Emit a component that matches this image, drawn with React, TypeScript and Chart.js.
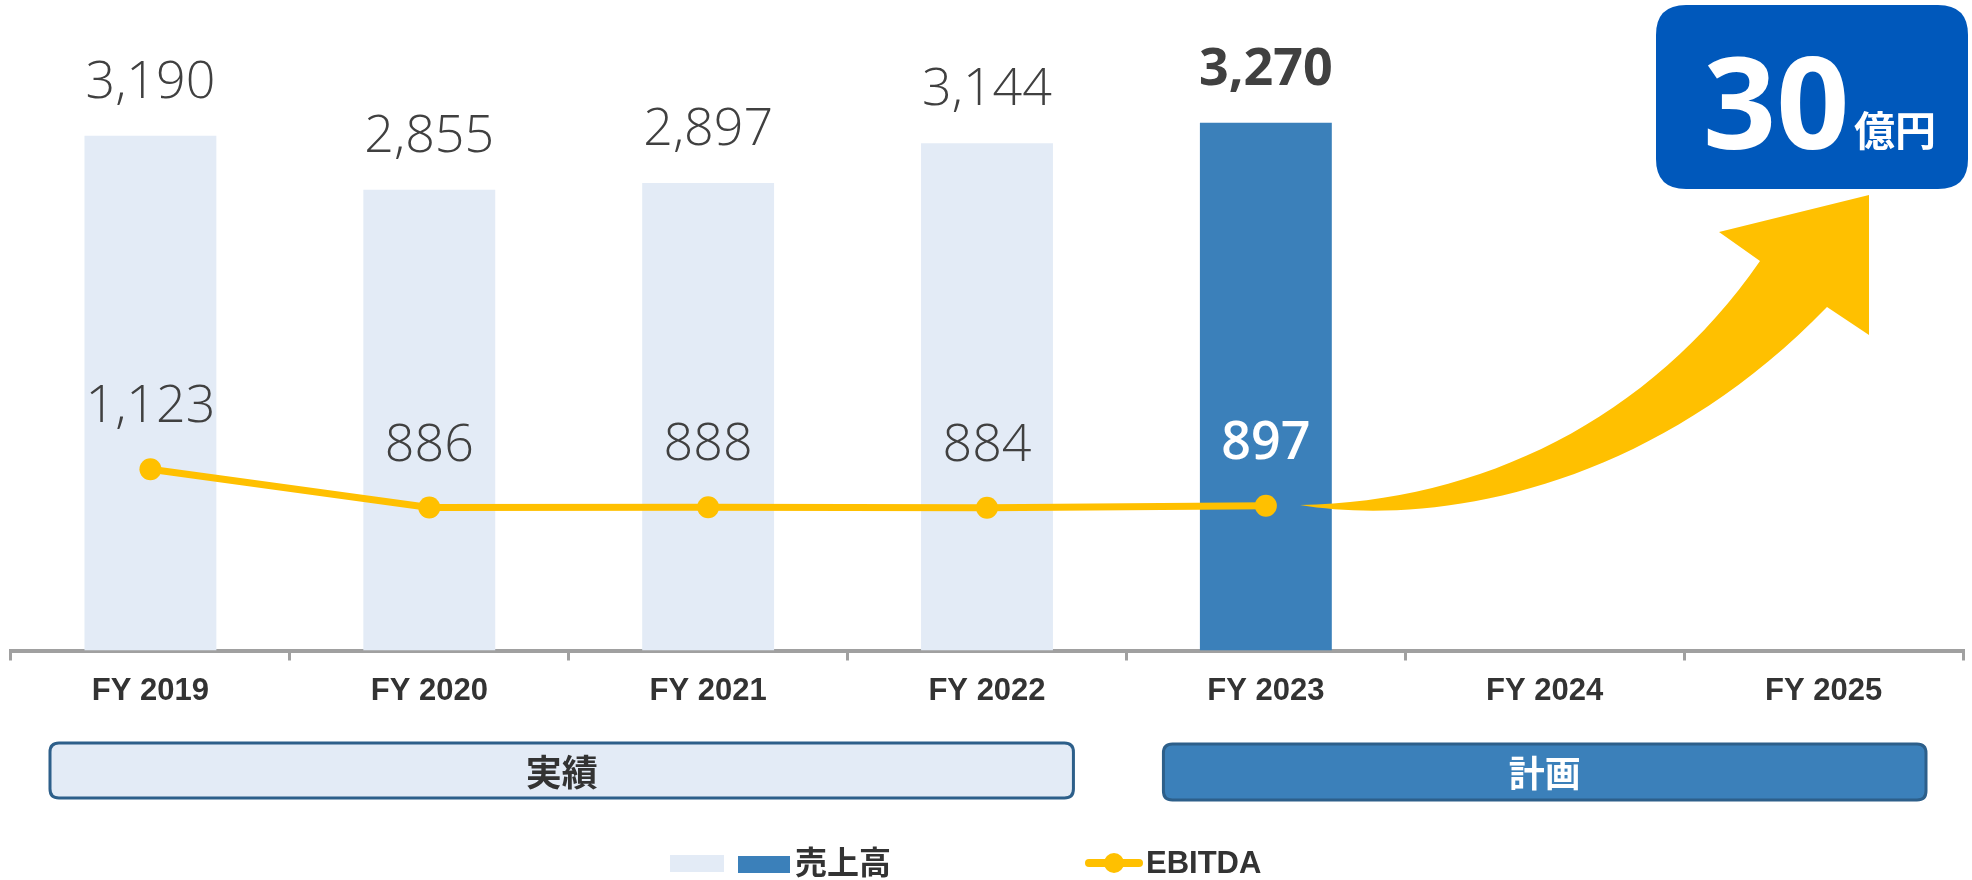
import { useEffect, useRef } from "react";
import { Chart, registerables } from "chart.js";

Chart.register(...registerables);

// ---- data ----
const categories = ["FY 2019", "FY 2020", "FY 2021", "FY 2022", "FY 2023", "FY 2024", "FY 2025"];
const salesValues: (number | null)[] = [3190, 2855, 2897, 3144, 3270, null, null];
const ebitdaValues: (number | null)[] = [1123, 886, 888, 884, 897, null, null];
const salesLabels = ["3,190", "2,855", "2,897", "3,144", "3,270"];
const ebitdaLabels = ["1,123", "886", "888", "884", "897"];
const planIndex = 4;
const actualLabel = "実績";
const planLabel = "計画";
const targetNumber = "30";
const targetUnit = "億円";
const legendSales = "売上高";
const legendEbitda = "EBITDA";

// ---- styles ----
const LIGHT = "#E3EBF6";
const DARK = "#3B80BA";
const GOLD = "#FFC000";
const TEXT = "#404040";
const AXIS = "#A0A0A0";
const BOX_BORDER = "#2D5F8A";
const TARGET_BLUE = "#0058BB";

function roundRect(ctx: CanvasRenderingContext2D, x: number, y: number, w: number, h: number, r: number) {
  ctx.beginPath();
  ctx.moveTo(x + r, y);
  ctx.lineTo(x + w - r, y);
  ctx.quadraticCurveTo(x + w, y, x + w, y + r);
  ctx.lineTo(x + w, y + h - r);
  ctx.quadraticCurveTo(x + w, y + h, x + w - r, y + h);
  ctx.lineTo(x + r, y + h);
  ctx.quadraticCurveTo(x, y + h, x, y + h - r);
  ctx.lineTo(x, y + r);
  ctx.quadraticCurveTo(x, y, x + r, y);
  ctx.closePath();
}

const decorPlugin = {
  id: "decor",
  afterDatasetsDraw(chart: any) {
    const ctx: CanvasRenderingContext2D = chart.ctx;
    const xs = chart.scales.x;
    ctx.save();

    // curved arrow
    ctx.fillStyle = GOLD;
    ctx.beginPath();
    ctx.moveTo(1300, 505);
    ctx.bezierCurveTo(1480, 502, 1650, 420, 1760, 261);
    ctx.lineTo(1719, 232);
    ctx.lineTo(1869, 195);
    ctx.lineTo(1869, 335);
    ctx.lineTo(1827, 307);
    ctx.bezierCurveTo(1640, 500, 1420, 525, 1300, 505);
    ctx.closePath();
    ctx.fill();

    // data labels - bars
    const barMeta = chart.getDatasetMeta(0);
    ctx.textAlign = "center";
    ctx.textBaseline = "alphabetic";
    barMeta.data.forEach((bar: any, i: number) => {
      if (salesValues[i] == null) return;
      ctx.font = i === planIndex ? '700 52px "Open Sans"' : '300 52px "Open Sans"';
      ctx.fillStyle = TEXT;
      ctx.fillText(salesLabels[i], bar.x, bar.y - 38);
    });
    // data labels - line
    const lineMeta = chart.getDatasetMeta(1);
    lineMeta.data.forEach((pt: any, i: number) => {
      if (ebitdaValues[i] == null) return;
      ctx.font = i === planIndex ? '600 52px "Open Sans"' : '300 52px "Open Sans"';
      ctx.fillStyle = i === planIndex ? "#FFFFFF" : TEXT;
      ctx.fillText(ebitdaLabels[i], pt.x, pt.y - 47);
    });

    // period boxes
    const half = (xs.getPixelForValue(1) - xs.getPixelForValue(0)) / 2;
    const aL = xs.getPixelForValue(0) - half + 39;
    const aR = xs.getPixelForValue(3) + half - 53;
    const pL = xs.getPixelForValue(4) - half + 37;
    const pR = xs.getPixelForValue(6) + half - 37;
    ctx.lineWidth = 3;
    ctx.strokeStyle = BOX_BORDER;
    roundRect(ctx, aL, 743, aR - aL, 55, 9);
    ctx.fillStyle = LIGHT;
    ctx.fill();
    ctx.stroke();
    roundRect(ctx, pL, 744, pR - pL, 56, 9);
    ctx.fillStyle = DARK;
    ctx.fill();
    ctx.stroke();
    ctx.font = '700 36px "Noto Sans CJK JP"';
    ctx.textBaseline = "middle";
    ctx.fillStyle = "#333333";
    ctx.fillText(actualLabel, (aL + aR) / 2, 772);
    ctx.fillStyle = "#FFFFFF";
    ctx.fillText(planLabel, (pL + pR) / 2, 773);

    // target box
    roundRect(ctx, 1656, 5, 312, 184, 30);
    ctx.fillStyle = TARGET_BLUE;
    ctx.fill();
    ctx.textBaseline = "alphabetic";
    ctx.textAlign = "left";
    ctx.fillStyle = "#FFFFFF";
    ctx.font = '700 128px "Open Sans"';
    ctx.fillText(targetNumber, 1703, 149);
    ctx.font = '700 41px "Noto Sans CJK JP"';
    ctx.fillText(targetUnit, 1854, 146);

    // legend
    ctx.fillStyle = LIGHT;
    ctx.fillRect(670, 855, 54, 17);
    ctx.fillStyle = DARK;
    ctx.fillRect(738, 856, 52, 17);
    ctx.fillStyle = "#333333";
    ctx.font = '700 32px "Noto Sans CJK JP"';
    ctx.fillText(legendSales, 795, 874);
    ctx.strokeStyle = GOLD;
    ctx.lineWidth = 8;
    ctx.lineCap = "round";
    ctx.beginPath();
    ctx.moveTo(1089, 863);
    ctx.lineTo(1139, 863);
    ctx.stroke();
    ctx.fillStyle = GOLD;
    ctx.beginPath();
    ctx.arc(1114, 863, 10, 0, Math.PI * 2);
    ctx.fill();
    ctx.fillStyle = "#333333";
    ctx.font = '700 31px "Liberation Sans"';
    ctx.fillText(legendEbitda, 1146, 873);

    ctx.restore();
  },
};

export default function App() {
  const ref = useRef<HTMLCanvasElement>(null);
  useEffect(() => {
    document.body.style.margin = "0";
    const chart = new Chart(ref.current!, {
      type: "bar",
      data: {
        labels: categories,
        datasets: [
          {
            type: "bar",
            label: legendSales,
            data: salesValues,
            backgroundColor: salesValues.map((_, i) => (i === planIndex ? DARK : LIGHT)),
            categoryPercentage: 1,
            barPercentage: 0.473,
            order: 2,
          },
          {
            type: "line",
            label: legendEbitda,
            data: ebitdaValues,
            borderColor: GOLD,
            backgroundColor: GOLD,
            borderWidth: 7,
            pointRadius: 11,
            pointBorderWidth: 0,
            pointBackgroundColor: GOLD,
            tension: 0,
            order: 1,
          },
        ] as any,
      },
      options: {
        responsive: false,
        animation: false,
        events: [],
        layout: { autoPadding: false, padding: { left: 11, right: 9, top: 5, bottom: 169.5 } },
        plugins: { legend: { display: false }, tooltip: { enabled: false } },
        scales: {
          x: {
            z: 1,
            grid: {
              display: true,
              drawOnChartArea: false,
              drawTicks: true,
              tickLength: 10,
              lineWidth: 3,
              color: AXIS,
              offset: true,
            },
            border: { display: true, color: AXIS, width: 4 },
            ticks: {
              color: "#333333",
              padding: 12,
              font: { family: '"Liberation Sans"', size: 31, weight: "bold" },
              maxRotation: 0,
            },
            afterFit: (s: any) => {
              s.height = 60;
            },
          },
          y: { display: false, min: 0, max: 4000 },
        },
      },
      plugins: [decorPlugin],
    });
    return () => chart.destroy();
  }, []);
  return <canvas ref={ref} width={1972} height={880} style={{ display: "block", width: 1972, height: 880 }} />;
}
